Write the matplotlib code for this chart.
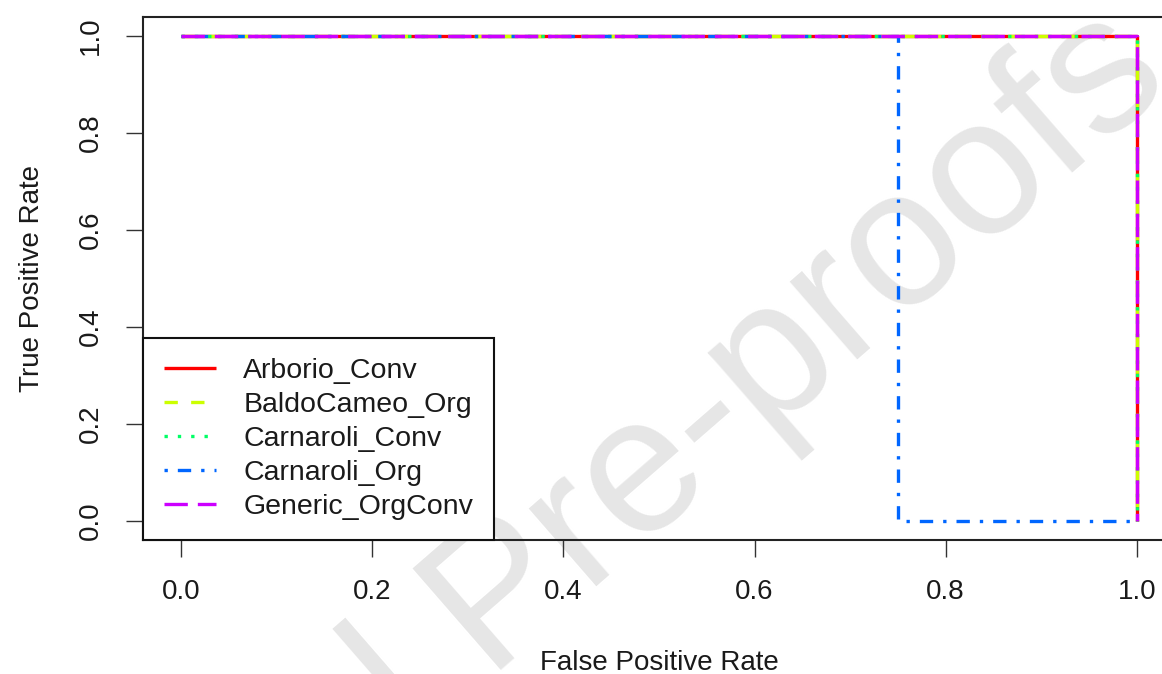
import matplotlib
matplotlib.use("Agg")
import matplotlib.pyplot as plt

plt.rcParams['font.family'] = ['Liberation Sans', 'DejaVu Sans']

series_names = ["Arborio_Conv", "BaldoCameo_Org", "Carnaroli_Conv", "Carnaroli_Org", "Generic_OrgConv"]
fpr_values = [
    [0.0, 1.0, 1.0],
    [0.0, 1.0, 1.0],
    [0.0, 1.0, 1.0],
    [0.0, 0.75, 0.75, 1.0],
    [0.0, 1.0, 1.0],
]
tpr_values = [
    [1.0, 1.0, 0.0],
    [1.0, 1.0, 0.0],
    [1.0, 1.0, 0.0],
    [1.0, 1.0, 0.0, 0.0],
    [1.0, 1.0, 0.0],
]
colors = ["#FF0000", "#CCFF00", "#00FF66", "#0066FF", "#CC00FF"]
dash_styles = [None, (0, (4, 4)), (0, (1, 3)), (0, (1, 3, 4, 3)), (0, (7, 3))]
tick_values = [0.0, 0.2, 0.4, 0.6, 0.8, 1.0]
tick_labels = ["0.0", "0.2", "0.4", "0.6", "0.8", "1.0"]

W, H = 1162, 674
fig = plt.figure(figsize=(W / 100, H / 100), dpi=100)
ax = fig.add_axes([143 / W, 1 - 540.4 / H, (1175 - 143) / W, (540.4 - 16.6) / H])
ax.set_facecolor('none')
ax.set_zorder(2)

# watermark
fig.text(1174 / W, 1 - 84 / H, "Journal Pre-proofs", fontsize=140, color="#e6e6e6",
         rotation=41, rotation_mode='anchor', ha='right', va='baseline', zorder=0)

lw = 2.4
for name, xs, ys, c, ls in zip(series_names, fpr_values, tpr_values, colors, dash_styles):
    kw = dict(color=c, lw=lw, label=name, solid_capstyle='butt', dash_capstyle='butt')
    if ls is None:
        ax.plot(xs, ys, linestyle='-', **kw)
    else:
        ax.plot(xs, ys, linestyle=ls, **kw)

ax.set_xlim(-0.04, 1.04)
ax.set_ylim(-0.04, 1.04)
ax.set_xticks(tick_values)
ax.set_xticklabels(tick_labels)
ax.set_yticks(tick_values)
ax.set_yticklabels(tick_labels, rotation=90, va='center')
ax.tick_params(axis='both', direction='out', length=12, width=1.0, color='#333333',
               labelsize=20, labelcolor='#1a1a1a')
ax.tick_params(axis='x', pad=16)
ax.tick_params(axis='y', pad=16)
for s in ax.spines.values():
    s.set_linewidth(1.5)
    s.set_color('#222222')

ax.set_xlabel("False Positive Rate", fontsize=20, color='#1a1a1a', labelpad=32)
ax.set_ylabel("True Positive Rate", fontsize=20, color='#1a1a1a', labelpad=24)

leg = ax.legend(loc='lower left', bbox_to_anchor=(0, 0), borderaxespad=0,
                fancybox=False, edgecolor='#111111', framealpha=1, fontsize=20.5,
                handlelength=1.85, handletextpad=0.95, labelspacing=0.28,
                borderpad=0.72)
leg.get_frame().set_linewidth(1.5)
for t in leg.get_texts():
    t.set_color('#1a1a1a')

fig.savefig("out.png", dpi=100)
